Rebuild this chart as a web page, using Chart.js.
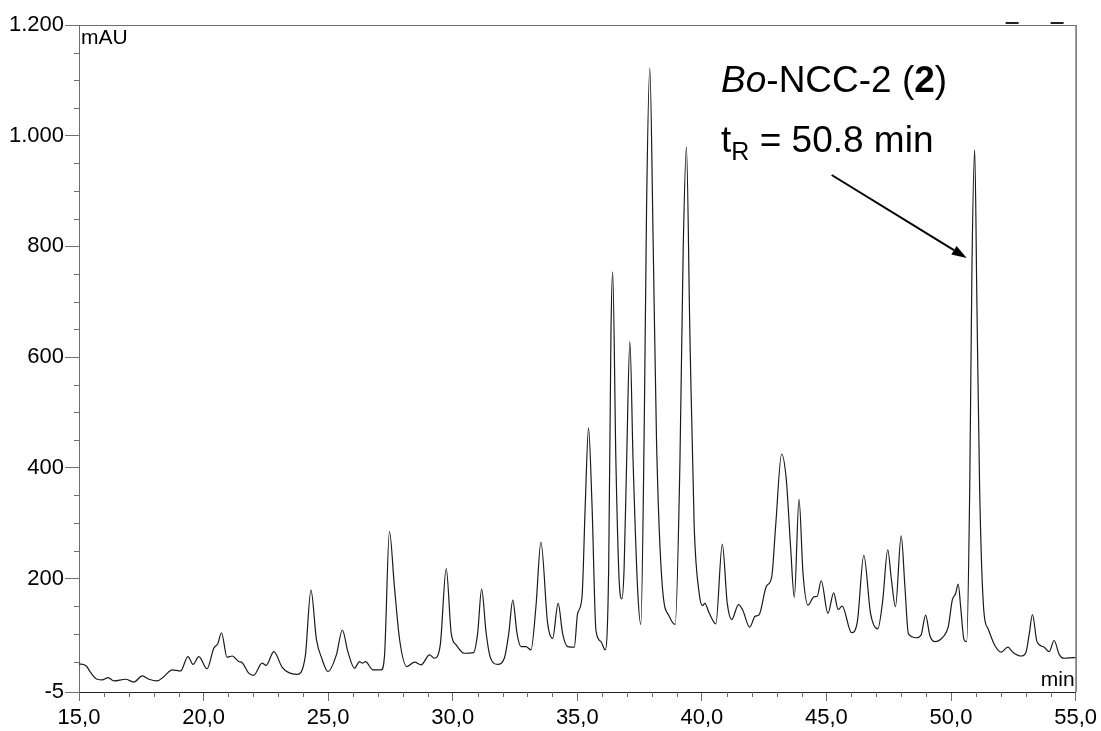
<!DOCTYPE html>
<html>
<head>
<meta charset="utf-8">
<title>Bo-NCC-2 HPLC trace</title>
<script src="https://cdn.jsdelivr.net/npm/chart.js@4.4.1/dist/chart.umd.min.js"></script>
<style>
  html, body { margin: 0; padding: 0; background: #fff; }
  #wrap { width: 1101px; height: 731px; position: relative; }
</style>
</head>
<body>
<div id="wrap"><canvas id="chromatogram"></canvas></div>
<script>
// Retention time (min) and detector response (mAU)
const retentionTimes = [
  15.00, 15.29, 15.47, 15.73, 15.93, 16.17, 16.40, 16.87, 17.20, 17.54, 17.81, 18.14, 18.41, 18.74,
  19.08, 19.37, 19.58, 19.81, 20.14, 20.41, 20.57, 20.72, 20.94, 21.15, 21.41, 21.55, 21.81, 22.01,
  22.35, 22.51, 22.82, 23.15, 23.42, 23.75, 24.08, 24.31, 24.53, 24.75, 24.99, 25.33, 25.57, 25.79,
  26.06, 26.26, 26.37, 26.50, 26.80, 27.13, 27.26, 27.46, 27.66, 27.87, 28.16, 28.47, 28.73, 29.07,
  29.27, 29.50, 29.74, 29.94, 30.14, 30.47, 30.83, 31.00, 31.16, 31.34, 31.50, 31.81, 32.07, 32.25,
  32.41, 32.58, 32.74, 32.94, 33.14, 33.34, 33.54, 33.81, 34.01, 34.23, 34.41, 34.61, 34.88, 35.01,
  35.19, 35.32, 35.45, 35.59, 35.75, 35.95, 36.12, 36.26, 36.35, 36.42, 36.55, 36.68, 36.79, 36.88,
  36.98, 37.11, 37.24, 37.42, 37.55, 37.69, 37.78, 37.91, 38.05, 38.18, 38.42, 38.69, 38.93, 39.12,
  39.25, 39.38, 39.52, 39.69, 39.89, 40.02, 40.12, 40.29, 40.56, 40.82, 41.02, 41.20, 41.47, 41.63,
  41.92, 42.14, 42.29, 42.59, 42.80, 42.96, 43.20, 43.39, 43.56, 43.71, 43.90, 44.06, 44.26, 44.50,
  44.63, 44.79, 45.06, 45.29, 45.47, 45.63, 46.01, 46.24, 46.50, 46.77, 47.06, 47.26, 47.46, 47.61,
  47.77, 48.00, 48.15, 48.29, 48.62, 48.80, 48.98, 49.15, 49.35, 49.69, 49.89, 50.05, 50.18, 50.29,
  50.39, 50.52, 50.63, 50.75, 50.84, 50.95, 51.04, 51.15, 51.32, 51.48, 51.75, 52.01, 52.28, 52.48,
  52.81, 53.01, 53.14, 53.27, 53.45, 53.74, 53.94, 54.14, 54.34, 54.54, 54.94, 55.00
];
const absorbance = [
  46, 42, 30, 18, 17, 21, 15, 18, 13, 24, 18, 15, 23, 35,
  33, 59, 45, 59, 37, 74, 82, 102, 58, 60, 50, 48, 29, 25,
  47, 43, 68, 40, 30, 27, 59, 179, 90, 55, 32, 62, 107, 68,
  38, 50, 47, 50, 35, 35, 59, 285, 185, 89, 41, 49, 44, 62,
  56, 80, 218, 101, 80, 65, 66, 101, 181, 102, 59, 45, 56, 101,
  161, 101, 77, 77, 71, 149, 266, 119, 92, 155, 101, 77, 76, 136,
  167, 334, 472, 334, 106, 86, 71, 220, 640, 754, 411, 197, 163, 220,
  411, 628, 411, 182, 117, 487, 869, 1122, 793, 449, 182, 132, 117, 411,
  793, 980, 640, 297, 174, 151, 155, 138, 118, 262, 155, 126, 153, 144,
  112, 132, 134, 186, 202, 294, 425, 378, 258, 166, 343, 209, 152, 167,
  168, 196, 137, 174, 144, 150, 102, 122, 242, 137, 109, 161, 252, 197,
  149, 277, 185, 100, 93, 98, 134, 97, 86, 95, 113, 161, 172, 190,
  147, 90, 86, 360, 761, 974, 694, 360, 140, 110, 80, 67, 76, 67,
  60, 67, 100, 135, 86, 76, 68, 88, 63, 56, 57, 57
];

const xTickValues = [15, 20, 25, 30, 35, 40, 45, 50, 55];
const yTickValues = [-5, 200, 400, 600, 800, 1000, 1200];
const xMinorStep = 1;
const yMinorStep = 50;

// annotation anchors in data units: [min, mAU]
const titleAnchor = [40.77, 1079];
const retentionAnchor = [40.77, 971];
const arrowTail = [45.21, 929];
const arrowHead = [50.63, 779];

const FONT = '"Liberation Sans", Arial, Helvetica, sans-serif';

function formatMin(v) {
  return v.toFixed(1).replace('.', ',');
}

function formatMau(v) {
  if (Math.abs(v) >= 1000) {
    return Math.floor(v / 1000) + '.' + String(v % 1000).padStart(3, '0');
  }
  return String(v);
}

// draws a run of text pieces with their own font, returns end x
function drawRuns(ctx, runs, x, y) {
  runs.forEach(r => {
    ctx.font = r.font;
    ctx.fillText(r.text, x, y + (r.dy || 0));
    x += ctx.measureText(r.text).width;
  });
  return x;
}

const framePlugin = {
  id: 'frameAndLabels',
  afterDraw(chart) {
    const { ctx, chartArea: area, scales: { x, y } } = chart;
    ctx.save();

    // top and right frame lines
    ctx.lineWidth = 1;
    ctx.strokeStyle = '#6e6e6e';
    ctx.beginPath();
    ctx.moveTo(area.left, area.top + 0.5);
    ctx.lineTo(area.right, area.top + 0.5);
    ctx.stroke();
    ctx.strokeStyle = '#222';
    ctx.beginPath();
    ctx.moveTo(area.right + 0.5, area.top);
    ctx.lineTo(area.right + 0.5, area.bottom);
    ctx.stroke();

    // small marks above the frame at the right
    ctx.fillStyle = '#222';
    ctx.fillRect(area.right - 70, area.top - 3, 13, 2);
    ctx.fillRect(area.right - 25, area.top - 3, 13, 2);

    // minor ticks
    ctx.strokeStyle = '#6e6e6e';
    ctx.beginPath();
    for (let t = x.min; t <= x.max; t += xMinorStep) {
      if (xTickValues.includes(t)) continue;
      const px = Math.round(x.getPixelForValue(t)) + 0.5;
      ctx.moveTo(px, area.bottom);
      ctx.lineTo(px, area.bottom + 5);
    }
    for (let v = yMinorStep; v < y.max; v += yMinorStep) {
      if (yTickValues.includes(v)) continue;
      const py = Math.round(y.getPixelForValue(v)) + 0.5;
      ctx.moveTo(area.left - 5, py);
      ctx.lineTo(area.left, py);
    }
    ctx.stroke();

    // axis unit labels
    ctx.fillStyle = '#000';
    ctx.font = '21px ' + FONT;
    ctx.textBaseline = 'top';
    ctx.textAlign = 'left';
    ctx.fillText('mAU', area.left + 2, area.top + 3);
    ctx.textBaseline = 'alphabetic';
    ctx.textAlign = 'right';
    ctx.fillText('min', area.right - 1, area.bottom - 6);

    // compound label
    ctx.textAlign = 'left';
    const big = '37px ' + FONT;
    drawRuns(ctx, [
      { text: 'Bo', font: 'italic ' + big },
      { text: '-NCC-2 (', font: big },
      { text: '2', font: 'bold ' + big },
      { text: ')', font: big }
    ], x.getPixelForValue(titleAnchor[0]), y.getPixelForValue(titleAnchor[1]));
    drawRuns(ctx, [
      { text: 't', font: big },
      { text: 'R', font: '25px ' + FONT, dy: 8 },
      { text: ' = 50.8 min', font: big }
    ], x.getPixelForValue(retentionAnchor[0]), y.getPixelForValue(retentionAnchor[1]));

    // arrow to the peak
    const x0 = x.getPixelForValue(arrowTail[0]), y0 = y.getPixelForValue(arrowTail[1]);
    const x1 = x.getPixelForValue(arrowHead[0]), y1 = y.getPixelForValue(arrowHead[1]);
    const ang = Math.atan2(y1 - y0, x1 - x0);
    const headLen = 15, headHalf = 5;
    const bx = x1 - headLen * Math.cos(ang), by = y1 - headLen * Math.sin(ang);
    ctx.strokeStyle = '#000';
    ctx.lineWidth = 2;
    ctx.beginPath();
    ctx.moveTo(x0, y0);
    ctx.lineTo(bx, by);
    ctx.stroke();
    ctx.fillStyle = '#000';
    ctx.beginPath();
    ctx.moveTo(x1, y1);
    ctx.lineTo(bx + headHalf * Math.sin(ang), by - headHalf * Math.cos(ang));
    ctx.lineTo(bx - headHalf * Math.sin(ang), by + headHalf * Math.cos(ang));
    ctx.closePath();
    ctx.fill();

    ctx.restore();
  }
};

const points = retentionTimes.map((t, i) => ({ x: t, y: absorbance[i] }));

new Chart(document.getElementById('chromatogram'), {
  type: 'line',
  data: {
    datasets: [{
      label: 'UV trace',
      data: points,
      borderColor: '#1a1a1a',
      borderWidth: 1.2,
      pointRadius: 0,
      fill: false,
      cubicInterpolationMode: 'monotone'
    }]
  },
  options: {
    responsive: true,
    maintainAspectRatio: false,
    animation: false,
    events: [],
    layout: { padding: { top: 25, right: 24, left: 0, bottom: 0 } },
    plugins: {
      legend: { display: false },
      tooltip: { enabled: false }
    },
    scales: {
      x: {
        type: 'linear',
        min: 15,
        max: 55,
        afterBuildTicks: scale => { scale.ticks = xTickValues.map(v => ({ value: v })); },
        afterFit: scale => { scale.height = 39; },
        ticks: {
          callback: v => formatMin(v),
          font: { family: FONT, size: 22 },
          color: '#000',
          padding: 4,
          maxRotation: 0,
          autoSkip: false
        },
        grid: { drawOnChartArea: false, tickLength: 9, tickColor: '#6e6e6e' },
        border: { display: true, color: '#222' }
      },
      y: {
        type: 'linear',
        min: -5,
        max: 1200,
        afterBuildTicks: scale => { scale.ticks = yTickValues.map(v => ({ value: v })); },
        afterFit: scale => { scale.width = 79; },
        ticks: {
          callback: v => formatMau(v),
          font: { family: FONT, size: 22 },
          color: '#000',
          padding: 1,
          autoSkip: false
        },
        grid: { drawOnChartArea: false, tickLength: 14, tickColor: '#6e6e6e' },
        border: { display: true, color: '#6e6e6e' }
      }
    }
  },
  plugins: [framePlugin]
});
</script>
</body>
</html>
